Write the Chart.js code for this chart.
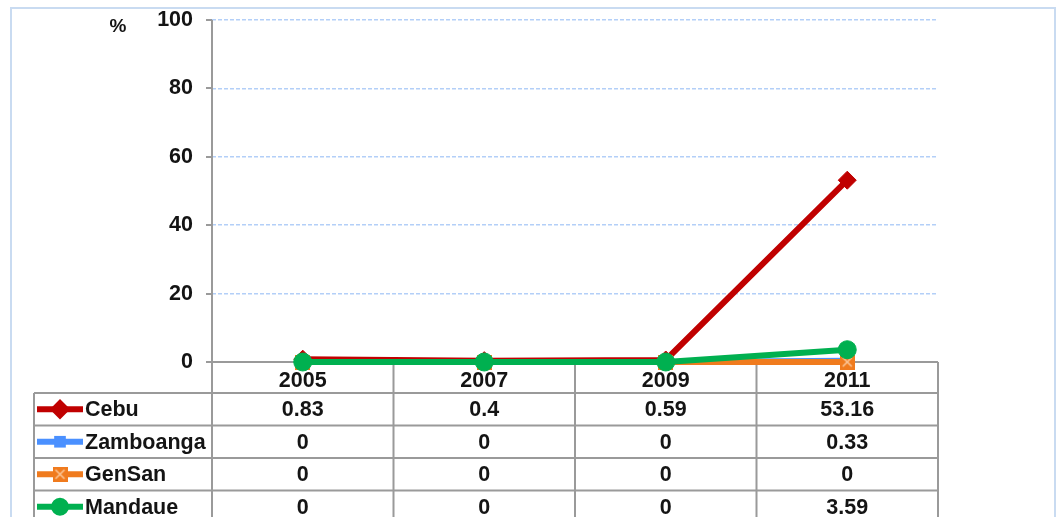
<!DOCTYPE html>
<html>
<head>
<meta charset="utf-8">
<script src="https://cdn.jsdelivr.net/npm/chart.js@4"></script>
<style>
  html, body { margin: 0; padding: 0; background: #fff; }
  canvas { display: block; }
</style>
</head>
<body>
<canvas id="chart" width="1060" height="517"></canvas>
<script>
// data
const years = ['2005', '2007', '2009', '2011'];
const cebu = [0.83, 0.4, 0.59, 53.16];
const zamboanga = [0, 0, 0, 0.33];
const gensan = [0, 0, 0, 0];
const mandaue = [0, 0, 0, 3.59];
const yTicks = [0, 20, 40, 60, 80, 100];
const unitLabel = '%';

const FONT_FAMILY = '"Liberation Sans", Arial, sans-serif';
const FONT_SIZE = 21.5;
const TEXT = '#141414';
const LINE_GRAY = '#9a9a9a';

// orange square with a light x, like the excel marker
function makeGensanMarker() {
    const c = document.createElement('canvas');
    c.width = 15; c.height = 15;
    const g = c.getContext('2d');
    g.fillStyle = '#f07b1e';
    g.fillRect(0, 0, 15, 15);
    g.strokeStyle = '#fbc89a';
    g.lineWidth = 1.5;
    g.beginPath();
    g.moveTo(3, 3); g.lineTo(12, 12);
    g.moveTo(12, 3); g.lineTo(3, 12);
    g.stroke();
    return c;
}
const gensanMarker = makeGensanMarker();

const series = [
    { label: 'Cebu', data: cebu, color: '#c00000', pointStyle: 'rectRot', radius: 9, order: 4 },
    { label: 'Zamboanga', data: zamboanga, color: '#4a90ff', pointStyle: 'rect', radius: 7, order: 3 },
    { label: 'GenSan', data: gensan, color: '#f07b1e', pointStyle: gensanMarker, radius: 7, order: 2 },
    { label: 'Mandaue', data: mandaue, color: '#00b050', pointStyle: 'circle', radius: 9, order: 1 }
];

function drawMarker(ctx, s, x, y, r) {
    ctx.fillStyle = s.color;
    ctx.strokeStyle = s.color;
    if (Chart.helpers && Chart.helpers.drawPoint) {
        Chart.helpers.drawPoint(ctx, { pointStyle: s.pointStyle, radius: r, rotation: 0, borderWidth: 1 }, x, y);
    } else {
        ctx.beginPath();
        ctx.arc(x, y, r, 0, Math.PI * 2);
        ctx.fill();
    }
}

// outer frame, table grid, data table text
const tablePlugin = {
    id: 'dataTable',
    beforeDraw(chart) {
        const ctx = chart.ctx;
        ctx.save();
        ctx.strokeStyle = '#c9dbf1';
        ctx.lineWidth = 2;
        ctx.strokeRect(11, 8, 1044, 600);
        ctx.restore();
    },
    beforeDatasetsDraw(chart) {
        const { ctx, chartArea, scales } = chart;
        const xs = scales.x, ys = scales.y;
        const n = years.length;
        const colW = (chartArea.right - chartArea.left) / n;
        const headerTop = ys.getPixelForValue(0);
        const headerH = 31;
        const rowH = 32.5;
        const tableLeft = 34;
        const bottom = chart.height + 5;

        ctx.save();
        ctx.strokeStyle = LINE_GRAY;
        ctx.lineWidth = 2;
        ctx.beginPath();
        // y axis line down through the table
        ctx.moveTo(chartArea.left, chartArea.top);
        ctx.lineTo(chartArea.left, bottom);
        // y tick marks
        yTicks.forEach(v => {
            const py = Math.round(ys.getPixelForValue(v));
            ctx.moveTo(chartArea.left - 6, py);
            ctx.lineTo(chartArea.left, py);
        });
        // x axis / header top
        ctx.moveTo(chartArea.left, headerTop);
        ctx.lineTo(chartArea.right, headerTop);
        // column lines
        for (let i = 0; i < n; i++) {
            const edge = xs.getPixelForValue(i) + colW / 2;
            ctx.moveTo(edge, headerTop);
            ctx.lineTo(edge, bottom);
        }
        // rows
        for (let k = 0; k <= series.length; k++) {
            const ry = headerTop + headerH + k * rowH;
            ctx.moveTo(tableLeft, ry);
            ctx.lineTo(chartArea.right, ry);
        }
        ctx.moveTo(tableLeft, headerTop + headerH);
        ctx.lineTo(tableLeft, bottom);
        ctx.stroke();

        // unit label
        ctx.fillStyle = TEXT;
        ctx.font = 'bold 19px ' + FONT_FAMILY;
        ctx.textAlign = 'center';
        ctx.textBaseline = 'middle';
        ctx.fillText(unitLabel, 118, 27);

        // rows of the data table
        ctx.font = 'bold ' + FONT_SIZE + 'px ' + FONT_FAMILY;
        series.forEach((s, k) => {
            const cy = headerTop + headerH + k * rowH + rowH / 2;
            ctx.strokeStyle = s.color;
            ctx.lineWidth = 6;
            ctx.lineCap = 'butt';
            ctx.beginPath();
            ctx.moveTo(37, cy);
            ctx.lineTo(83, cy);
            ctx.stroke();
            drawMarker(ctx, s, 60, cy, Math.max(4, s.radius - 3));

            ctx.fillStyle = TEXT;
            ctx.textAlign = 'left';
            ctx.fillText(s.label, 85, cy + 1);
            ctx.textAlign = 'center';
            s.data.forEach((v, i) => {
                ctx.fillText(String(v), xs.getPixelForValue(i), cy + 1);
            });
        });
        ctx.restore();
    }
};

new Chart(document.getElementById('chart'), {
    type: 'line',
    data: {
        labels: years,
        datasets: series.map(s => ({
            label: s.label,
            data: s.data,
            borderColor: s.color,
            backgroundColor: s.color,
            borderWidth: 6,
            pointStyle: s.pointStyle,
            pointRadius: s.radius,
            pointHoverRadius: s.radius + 1,
            pointBorderWidth: 1,
            order: s.order,
            clip: false,
            tension: 0
        }))
    },
    options: {
        responsive: false,
        animation: false,
        layout: { padding: { top: 20, right: 122, left: 0, bottom: 0 } },
        plugins: {
            legend: { display: false },
            tooltip: { enabled: true }
        },
        scales: {
            x: {
                offset: true,
                grid: { display: false, drawTicks: false },
                border: { display: false },
                ticks: {
                    padding: 6,
                    color: TEXT,
                    font: { family: FONT_FAMILY, size: FONT_SIZE, weight: 'bold' }
                },
                afterFit(scale) { scale.height = 155; }
            },
            y: {
                min: 0,
                max: 100,
                grid: {
                    drawTicks: true,
                    tickLength: 19,
                    tickColor: 'rgba(0,0,0,0)',
                    lineWidth: 1.5,
                    color: c => (c.tick && c.tick.value === 0) ? 'rgba(0,0,0,0)' : '#b3cff8'
                },
                border: { display: false, dash: [4, 2] },
                afterBuildTicks(scale) { scale.ticks = yTicks.map(v => ({ value: v })); },
                ticks: {
                    padding: 0,
                    color: TEXT,
                    font: { family: FONT_FAMILY, size: FONT_SIZE, weight: 'bold' }
                },
                afterFit(scale) { scale.width = 212; }
            }
        }
    },
    plugins: [tablePlugin]
});
</script>
</body>
</html>
